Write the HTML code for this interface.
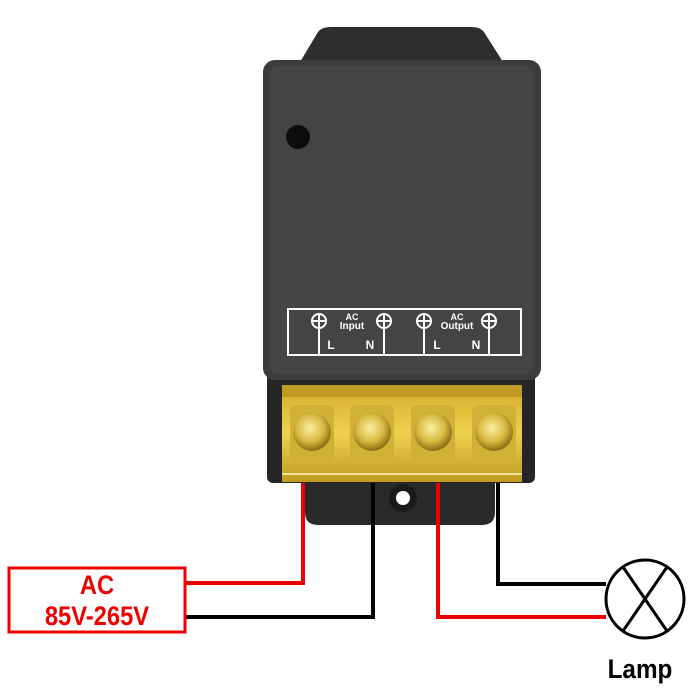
<!DOCTYPE html>
<html><head><style>html,body{margin:0;padding:0;background:#fff;width:700px;height:700px;overflow:hidden}</style></head>
<body>
<svg width="700" height="700" viewBox="0 0 700 700" xmlns="http://www.w3.org/2000/svg" font-family="Liberation Sans, Arial, sans-serif">
<defs>
<linearGradient id="g" x1="0" y1="0" x2="0" y2="1"><stop offset="0" stop-color="#d4ac2a"/><stop offset="0.5" stop-color="#f0d050"/><stop offset="1" stop-color="#c09a20"/></linearGradient>
<radialGradient id="s" cx="0.45" cy="0.4" r="0.6"><stop offset="0" stop-color="#fbf0a0"/><stop offset="0.6" stop-color="#d8b840"/><stop offset="1" stop-color="#8a6a10"/></radialGradient>
</defs>
<path d="M300 62 L318 32 Q322 27 330 27 L472 27 Q480 27 484 32 L503 62 Z" fill="#2e2e2e"/>
<path d="M305 470 L495 470 L495 512 Q495 525 482 525 L318 525 Q305 525 305 512 Z" fill="#2a2a2a"/>
<circle cx="403" cy="498" r="14" fill="#1a1a1a"/><circle cx="403" cy="498" r="7" fill="#fff"/>
<rect x="267" y="365" width="268" height="118" rx="6" fill="#262626"/>
<rect x="263" y="60" width="278" height="320" rx="12" fill="#3c3c3c"/>
<rect x="270" y="66" width="264" height="308" rx="8" fill="#444"/>
<circle cx="298" cy="137" r="12" fill="#0d0d0d"/>
<rect x="288" y="309" width="233" height="46" fill="none" stroke="#fff" stroke-width="2"/>
<g stroke="#fff" stroke-width="2" fill="none">
<circle cx="319" cy="321" r="7"/><line x1="312" y1="321" x2="326" y2="321"/><line x1="319" y1="314" x2="319" y2="355"/>
<circle cx="384" cy="321" r="7"/><line x1="377" y1="321" x2="391" y2="321"/><line x1="384" y1="314" x2="384" y2="355"/>
<circle cx="424" cy="321" r="7"/><line x1="417" y1="321" x2="431" y2="321"/><line x1="424" y1="314" x2="424" y2="355"/>
<circle cx="489" cy="321" r="7"/><line x1="482" y1="321" x2="496" y2="321"/><line x1="489" y1="314" x2="489" y2="355"/>
</g>
<g fill="#fff" font-weight="bold" text-anchor="middle">
<text x="352" y="320" font-size="9">AC</text><text x="352" y="329" font-size="10">Input</text>
<text x="457" y="320" font-size="9">AC</text><text x="457" y="329" font-size="10">Output</text>
<text x="331" y="349" font-size="12">L</text><text x="370" y="349" font-size="12">N</text>
<text x="437" y="349" font-size="12">L</text><text x="476" y="349" font-size="12">N</text>
</g>
<rect x="282" y="385" width="240" height="97" fill="url(#g)"/>
<rect x="282" y="385" width="240" height="12" fill="#c09a22"/>
<line x1="282" y1="474" x2="522" y2="474" stroke="#f0e0a0" stroke-width="2"/>
<g>
<rect x="290" y="405" width="44" height="56" rx="6" fill="#d0b035"/><circle cx="312" cy="432" r="19" fill="url(#s)"/>
<rect x="350" y="405" width="44" height="56" rx="6" fill="#d0b035"/><circle cx="372" cy="432" r="19" fill="url(#s)"/>
<rect x="411" y="405" width="44" height="56" rx="6" fill="#d0b035"/><circle cx="433" cy="432" r="19" fill="url(#s)"/>
<rect x="472" y="405" width="44" height="56" rx="6" fill="#d0b035"/><circle cx="494" cy="432" r="19" fill="url(#s)"/>
</g>
<g fill="none" stroke-width="4">
<polyline points="303,483 303,583 186,583" stroke="#e00"/>
<polyline points="373,483 373,617 186,617" stroke="#000"/>
<polyline points="438,483 438,617 606,617" stroke="#e00"/>
<polyline points="498,483 498,584 606,584" stroke="#000"/>
</g>
<rect x="9" y="568" width="176" height="64" fill="#fff" stroke="#e00" stroke-width="3"/>
<text x="97" y="594" font-size="27" font-weight="bold" fill="#e00" text-anchor="middle" transform="translate(97,0) scale(0.88,1) translate(-97,0)">AC</text>
<text x="97" y="625" font-size="27" font-weight="bold" fill="#e00" text-anchor="middle" transform="translate(97,0) scale(0.88,1) translate(-97,0)">85V-265V</text>
<ellipse cx="645" cy="599" rx="39" ry="39" fill="#fff" stroke="#000" stroke-width="3"/>
<line x1="623" y1="567" x2="667" y2="631" stroke="#000" stroke-width="3"/>
<line x1="667" y1="567" x2="623" y2="631" stroke="#000" stroke-width="3"/>
<text x="640" y="678" font-size="27" font-weight="bold" fill="#000" text-anchor="middle" transform="translate(640,0) scale(0.9,1) translate(-640,0)">Lamp</text>
</svg>
</body></html>
